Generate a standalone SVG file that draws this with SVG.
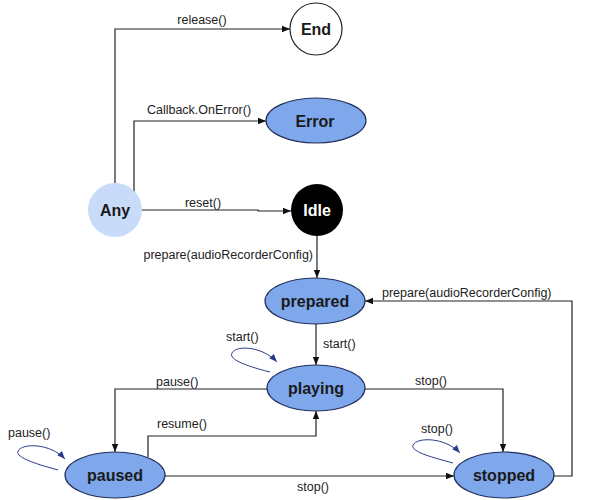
<svg xmlns="http://www.w3.org/2000/svg" width="592" height="500" viewBox="0 0 592 500">
<defs>
<marker id="ah" markerWidth="8" markerHeight="8" refX="8" refY="4" orient="auto" markerUnits="userSpaceOnUse">
<path d="M0,0.8 L8,4 L0,7.2 Z" fill="#111"/>
</marker>
<marker id="lh" markerWidth="9" markerHeight="8" refX="8" refY="4" orient="auto" markerUnits="userSpaceOnUse">
<path d="M0,0.8 L8,4 L0,7.2 Z" fill="#2B3A8C"/>
</marker>
</defs>
<style>
.e{fill:none;stroke:#222;stroke-width:1.2;marker-end:url(#ah)}
.l{fill:none;stroke:#2B3A8C;stroke-width:1;marker-end:url(#lh)}
.t{font-family:"Liberation Sans",Arial,sans-serif;font-size:12.5px;fill:#222}
.n{font-family:"Liberation Sans",Arial,sans-serif;font-size:16px;font-weight:bold;fill:#1a1a1a;text-anchor:middle}
.s{fill:#7FA7EC;stroke:#22305A;stroke-width:1.2}
</style>
<rect width="592" height="500" fill="#fff"/>
<g id="connectors">
<polyline class="e" points="115,183 115,29 290,29"/>
<polyline class="e" points="134,192 134,121 266,121"/>
<polyline class="e" points="142,210 258,210 258,211 291,211"/>
<polyline class="e" points="317,236 317,278"/>
<polyline class="e" points="316,324 316,365"/>
<polyline class="e" points="267,389 115,389 115,452"/>
<polyline class="e" points="148,457 148,436 316,436 316,411"/>
<polyline class="e" points="365,389 503,389 503,452"/>
<polyline class="e" points="165,476 454,476"/>
<polyline class="e" points="553,476 572,476 572,301 365,301"/>
<path class="l" d="M270,372 C250,367 228,360 232,353 C236,345 262,346 277,362"/>
<path class="l" d="M58,470 C40,465 15,458 18,451 C22,443 50,443 65,459"/>
<path class="l" d="M453,463 C435,458 410,452 413,445 C417,437 445,437 460,453"/>
<text class="t" x="202" y="24" text-anchor="middle">release()</text>
<text class="t" x="199" y="114" text-anchor="middle">Callback.OnError()</text>
<text class="t" x="203" y="207" text-anchor="middle">reset()</text>
<text class="t" x="313" y="259" text-anchor="end">prepare(audioRecorderConfig)</text>
<text class="t" x="382" y="297">prepare(audioRecorderConfig)</text>
<text class="t" x="323" y="348">start()</text>
<text class="t" x="226" y="341">start()</text>
<text class="t" x="156" y="386">pause()</text>
<text class="t" x="157" y="428">resume()</text>
<text class="t" x="8" y="437">pause()</text>
<text class="t" x="415" y="385">stop()</text>
<text class="t" x="421" y="433">stop()</text>
<text class="t" x="297" y="491">stop()</text>
</g>
<g id="End"><circle cx="316" cy="29" r="26" fill="#fff" stroke="#222" stroke-width="1.2"/><text class="n" x="316" y="35">End</text></g>
<g id="Error"><ellipse class="s" cx="316" cy="120.5" rx="50" ry="22.5"/><text class="n" x="315" y="126.5">Error</text></g>
<g id="Any"><circle cx="115" cy="210" r="27" fill="#C8DCFA"/><text class="n" x="115" y="216">Any</text></g>
<g id="Idle"><circle cx="317" cy="210" r="26" fill="#000"/><text class="n" x="317" y="216" style="fill:#fff">Idle</text></g>
<g id="prepared"><ellipse class="s" cx="315" cy="301" rx="50" ry="23"/><text class="n" x="315" y="307">prepared</text></g>
<g id="playing"><ellipse class="s" cx="316" cy="388" rx="49" ry="23"/><text class="n" x="316" y="394">playing</text></g>
<g id="paused"><ellipse class="s" cx="115" cy="475" rx="50" ry="23"/><text class="n" x="115" y="481">paused</text></g>
<g id="stopped"><ellipse class="s" cx="504" cy="475" rx="50" ry="23"/><text class="n" x="504" y="481">stopped</text></g>
</svg>
